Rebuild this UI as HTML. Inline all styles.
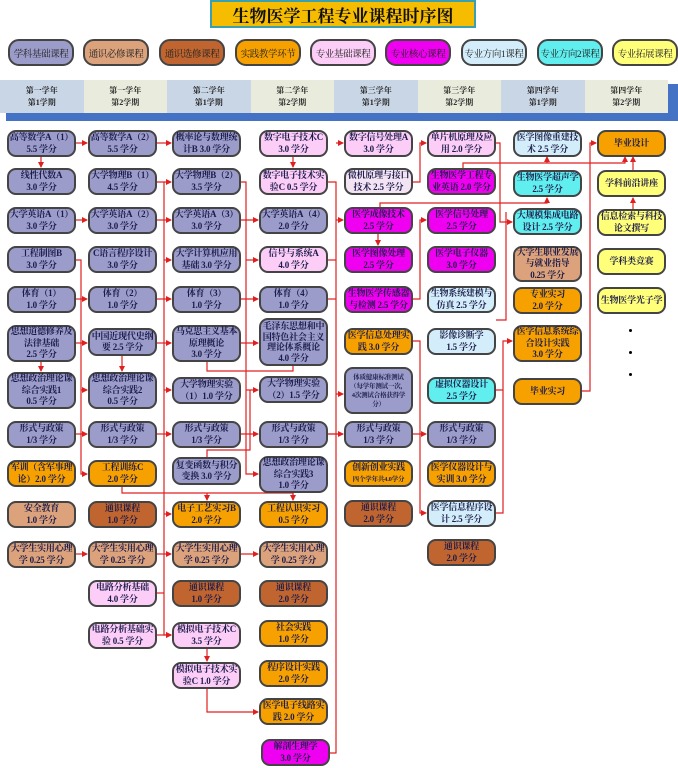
<!DOCTYPE html>
<html><head><meta charset="utf-8"><style>
body{margin:0;width:678px;height:768px;background:#fff;position:relative;overflow:hidden;font-family:"Liberation Serif","Noto Serif CJK SC",serif}
.b{position:absolute;box-sizing:border-box;border:2px solid #444;border-radius:9px;display:flex;align-items:center;justify-content:center;text-align:center;font-size:9px;line-height:11.5px;font-weight:bold;color:#1c1c4a;width:69px;height:27px;padding:0;letter-spacing:-0.2px;white-space:nowrap}
.p{background:#9c9ccb}.t{background:#dca27c}.br{background:#c0652f}.o{background:#f7a100}.k{background:#fbcdf7}.m{background:#f000f0}.lb{background:#d3eefa}.c{background:#60eeee}.y{background:#ffff7a}.w{background:#f3e4f3}
.lg{position:absolute;top:39px;height:27px;width:66px;box-sizing:border-box;border:2px solid #444;border-radius:11px;font-size:9.5px;letter-spacing:-0.4px;white-space:nowrap;display:flex;align-items:center;justify-content:center;font-family:"Liberation Serif","Noto Serif CJK SC",serif;color:#222}
.s{position:absolute;top:80px;height:33px;width:83.5px;font-size:8px;line-height:12px;font-weight:bold;text-align:center;display:flex;align-items:center;justify-content:center;color:#222}
svg{position:absolute;left:0;top:0}
</style></head><body>
<div style="position:absolute;left:210px;top:0;width:266px;height:28px;box-sizing:border-box;background:#f6bd00;border:2px solid #3aa0b0;font:bold 17px 'Liberation Serif','Noto Serif CJK SC',serif;display:flex;align-items:center;justify-content:center;color:#111">生物医学工程专业课程时序图</div>
<div class="lg" style="left:8px;background:#9c9ccb">学科基础课程</div>
<div class="lg" style="left:83px;background:#dca27c">通识必修课程</div>
<div class="lg" style="left:159px;background:#c0652f">通识选修课程</div>
<div class="lg" style="left:235px;background:#f7a100">实践教学环节</div>
<div class="lg" style="left:310px;background:#fbcdf7">专业基础课程</div>
<div class="lg" style="left:385px;background:#f000f0">专业核心课程</div>
<div class="lg" style="left:461px;background:#d3eefa">专业方向1课程</div>
<div class="lg" style="left:537px;background:#60eeee">专业方向2课程</div>
<div class="lg" style="left:612px;background:#ffff7a">专业拓展课程</div>
<div style="position:absolute;left:6px;top:113px;width:672px;height:8px;background:#4472c4"></div>
<div style="position:absolute;left:668px;top:84px;width:10px;height:37px;background:#4472c4"></div>
<div class="s" style="left:0;background:#c9d6e5">第一学年<br>第1学期</div>
<div class="s" style="left:83.5px;background:#e9ecdc">第一学年<br>第2学期</div>
<div class="s" style="left:167px;background:#c9d6e5">第二学年<br>第1学期</div>
<div class="s" style="left:250.5px;background:#e9ecdc">第二学年<br>第2学期</div>
<div class="s" style="left:334px;background:#c9d6e5">第三学年<br>第1学期</div>
<div class="s" style="left:417.5px;background:#e9ecdc">第三学年<br>第2学期</div>
<div class="s" style="left:501px;background:#c9d6e5">第四学年<br>第1学期</div>
<div class="s" style="left:584.5px;background:#e9ecdc">第四学年<br>第2学期</div>

<svg width="678" height="768" viewBox="0 0 678 768">
<defs><marker id="a" markerWidth="6" markerHeight="6" refX="5" refY="3" orient="auto" markerUnits="userSpaceOnUse"><path d="M0,0L6,3L0,6z" fill="#e02020"/></marker></defs>
<g stroke="#e02020" stroke-width="1.2" fill="none">
<path d="M75,143H87" marker-end="url(#a)"/><path d="M157,143H171" marker-end="url(#a)"/>
<path d="M41,156V167" marker-end="url(#a)"/><path d="M293,156V167" marker-end="url(#a)"/>
<path d="M75,220H87" marker-end="url(#a)"/><path d="M157,220H171" marker-end="url(#a)"/><path d="M241,220H258" marker-end="url(#a)"/>
<path d="M75,299H87" marker-end="url(#a)"/><path d="M157,299H171" marker-end="url(#a)"/><path d="M241,299H258" marker-end="url(#a)"/>
<path d="M75,343H87" marker-end="url(#a)"/><path d="M157,343H171" marker-end="url(#a)"/><path d="M241,343H258" marker-end="url(#a)"/>
<path d="M75,434H87" marker-end="url(#a)"/><path d="M157,434H171" marker-end="url(#a)"/><path d="M241,434H258" marker-end="url(#a)"/><path d="M328,434H343" marker-end="url(#a)"/><path d="M413,434H426" marker-end="url(#a)"/>
<path d="M75,554H87" marker-end="url(#a)"/><path d="M157,554H171" marker-end="url(#a)"/><path d="M241,554H258" marker-end="url(#a)"/>
<path d="M41,361V371" marker-end="url(#a)"/><path d="M122,356V371" marker-end="url(#a)"/>
<path d="M75,260H81V474H87" marker-end="url(#a)"/><path d="M81,390H87" marker-end="url(#a)"/>
<path d="M157,182H164V635H171" marker-end="url(#a)"/><path d="M164,182H171" marker-end="url(#a)"/><path d="M164,260H171" marker-end="url(#a)"/><path d="M164,390H171" marker-end="url(#a)"/><path d="M164,514H171" marker-end="url(#a)"/><path d="M157,593H164"/><path d="M157,635H171" marker-end="url(#a)"/>
<path d="M122,487V493H293V500"/><path d="M207,493V500" marker-end="url(#a)"/><path d="M293,493V500" marker-end="url(#a)"/>
<path d="M207,648V661" marker-end="url(#a)"/><path d="M207,688V712H258" marker-end="url(#a)"/>
<path d="M241,182H246V474H258" marker-end="url(#a)"/><path d="M246,390H258" marker-end="url(#a)"/><path d="M246,260H258" marker-end="url(#a)"/>
<path d="M207,361V371H293V366"/><path d="M207,457V450H250V390"/>
<path d="M328,182H336V753H330"/><path d="M328,260H336"/><path d="M328,299H336"/><path d="M336,143H343" marker-end="url(#a)"/><path d="M336,220H343" marker-end="url(#a)"/><path d="M336,394H343" marker-end="url(#a)"/><path d="M328,434H343"/>
<path d="M413,182H420V143H426" marker-end="url(#a)"/><path d="M413,299H420V220H426" marker-end="url(#a)"/>
<path d="M413,341H420V513H426" marker-end="url(#a)"/>
<path d="M378,234V245" marker-end="url(#a)"/>
<path d="M380,207V203H547V198" marker-end="url(#a)"/>
<path d="M463,168V163H625V157" marker-end="url(#a)"/><path d="M547,163V157" marker-end="url(#a)"/><path d="M633,170V157" marker-end="url(#a)"/>
<path d="M633,209V198" marker-end="url(#a)"/>
<path d="M496,143H500V222H512" marker-end="url(#a)"/>
<path d="M496,390H503V341H512" marker-end="url(#a)"/><path d="M496,513H503V390"/>
<path d="M506,212V320H496"/>
<path d="M582,391H590V143H596" marker-end="url(#a)"/>
</g></svg>

<!-- col1 -->
<div class="b p" style="left:7px;top:130px">高等数学A（1）<br>5.5 学分</div>
<div class="b p" style="left:7px;top:168px">线性代数A<br>3.0 学分</div>
<div class="b p" style="left:7px;top:207px">大学英语A（1）<br>3.0 学分</div>
<div class="b p" style="left:7px;top:246px">工程制图B<br>3.0 学分</div>
<div class="b p" style="left:7px;top:286px">体育（1）<br>1.0 学分</div>
<div class="b p" style="left:7px;top:325px;height:37px">思想道德修养及<br>法律基础<br>2.5 学分</div>
<div class="b p" style="left:7px;top:372px;height:37px">思想政治理论课<br>综合实践1<br>0.5 学分</div>
<div class="b p" style="left:7px;top:421px">形式与政策<br>1/3 学分</div>
<div class="b o" style="left:7px;top:460px">军训（含军事理<br>论）2.0 学分</div>
<div class="b t" style="left:7px;top:501px">安全教育<br>1.0 学分</div>
<div class="b t" style="left:7px;top:541px">大学生实用心理<br>学 0.25 学分</div>
<!-- col2 -->
<div class="b p" style="left:88px;top:130px">高等数学A（2）<br>5.5 学分</div>
<div class="b p" style="left:88px;top:168px">大学物理B（1）<br>4.5 学分</div>
<div class="b p" style="left:88px;top:207px">大学英语A（2）<br>3.0 学分</div>
<div class="b p" style="left:88px;top:246px">C语言程序设计<br>3.0 学分</div>
<div class="b p" style="left:88px;top:286px">体育（2）<br>1.0 学分</div>
<div class="b p" style="left:88px;top:328px;height:28px">中国近现代史纲<br>要 2.5 学分</div>
<div class="b p" style="left:88px;top:372px;height:37px">思想政治理论课<br>综合实践2<br>0.5 学分</div>
<div class="b p" style="left:88px;top:421px">形式与政策<br>1/3 学分</div>
<div class="b o" style="left:88px;top:460px">工程训练C<br>2.0 学分</div>
<div class="b br" style="left:88px;top:501px">通识课程<br>1.0 学分</div>
<div class="b t" style="left:88px;top:541px">大学生实用心理<br>学 0.25 学分</div>
<div class="b k" style="left:88px;top:580px">电路分析基础<br>4.0 学分</div>
<div class="b k" style="left:88px;top:622px">电路分析基础实<br>验 0.5 学分</div>
<!-- col3 -->
<div class="b p" style="left:172px;top:130px">概率论与数理统<br>计B 3.0 学分</div>
<div class="b p" style="left:172px;top:168px">大学物理B（2）<br>3.5 学分</div>
<div class="b p" style="left:172px;top:207px">大学英语A（3）<br>3.0 学分</div>
<div class="b p" style="left:172px;top:246px">大学计算机应用<br>基础 3.0 学分</div>
<div class="b p" style="left:172px;top:286px">体育（3）<br>1.0 学分</div>
<div class="b p" style="left:172px;top:325px;height:37px">马克思主义基本<br>原理概论<br>3.0 学分</div>
<div class="b p" style="left:172px;top:377px">大学物理实验<br>（1）1.0 学分</div>
<div class="b p" style="left:172px;top:421px">形式与政策<br>1/3 学分</div>
<div class="b p" style="left:172px;top:457px;height:28px">复变函数与积分<br>变换 3.0 学分</div>
<div class="b o" style="left:172px;top:501px">电子工艺实习B<br>2.0 学分</div>
<div class="b t" style="left:172px;top:541px">大学生实用心理<br>学 0.25 学分</div>
<div class="b br" style="left:172px;top:580px">通识课程<br>1.0 学分</div>
<div class="b k" style="left:172px;top:622px">模拟电子技术C<br>3.5 学分</div>
<div class="b k" style="left:172px;top:662px">模拟电子技术实<br>验C 1.0 学分</div>
<!-- col4 -->
<div class="b k" style="left:259px;top:130px">数字电子技术C<br>3.0 学分</div>
<div class="b k" style="left:259px;top:168px">数字电子技术实<br>验C 0.5 学分</div>
<div class="b p" style="left:259px;top:207px">大学英语A（4）<br>2.0 学分</div>
<div class="b k" style="left:259px;top:246px">信号与系统A<br>4.0 学分</div>
<div class="b p" style="left:259px;top:286px">体育（4）<br>1.0 学分</div>
<div class="b p" style="left:259px;top:318px;height:48px;line-height:10.5px">毛泽东思想和中<br>国特色社会主义<br>理论体系概论<br>4.0 学分</div>
<div class="b p" style="left:259px;top:376px">大学物理实验<br>（2）1.5 学分</div>
<div class="b p" style="left:259px;top:421px">形式与政策<br>1/3 学分</div>
<div class="b p" style="left:259px;top:456px;height:37px">思想政治理论课<br>综合实践3<br>1.0 学分</div>
<div class="b o" style="left:259px;top:501px">工程认识实习<br>0.5 学分</div>
<div class="b t" style="left:259px;top:541px">大学生实用心理<br>学 0.25 学分</div>
<div class="b br" style="left:259px;top:580px">通识课程<br>2.0 学分</div>
<div class="b o" style="left:259px;top:620px">社会实践<br>1.0 学分</div>
<div class="b o" style="left:259px;top:660px">程序设计实践<br>2.0 学分</div>
<div class="b o" style="left:259px;top:698px">医学电子线路实<br>践 2.0 学分</div>
<div class="b m" style="left:261px;top:739px">解剖生理学<br>3.0 学分</div>
<!-- col5 -->
<div class="b k" style="left:344px;top:130px">数字信号处理A<br>3.0 学分</div>
<div class="b w" style="left:344px;top:168px">微机原理与接口<br>技术 2.5 学分</div>
<div class="b m" style="left:344px;top:207px">医学成像技术<br>2.5 学分</div>
<div class="b m" style="left:344px;top:246px">医学图像处理<br>2.5 学分</div>
<div class="b m" style="left:344px;top:286px">生物医学传感器<br>与检测 2.5 学分</div>
<div class="b o" style="left:344px;top:328px">医学信息处理实<br>践 3.0 学分</div>
<div class="b p" style="left:344px;top:367px;height:47px;font-size:6.5px;line-height:9px">体质健康标准测试<br>（每学年测试一次，<br>4次测试合格获得学<br>分）</div>
<div class="b p" style="left:344px;top:421px">形式与政策<br>1/3 学分</div>
<div class="b o" style="left:344px;top:460px"><div>创新创业实践<br><span style="font-size:6.5px">四个学年共4.0学分</span></div></div>
<div class="b br" style="left:344px;top:500px">通识课程<br>2.0 学分</div>
<!-- col6 -->
<div class="b k" style="left:427px;top:130px">单片机原理及应<br>用 2.0 学分</div>
<div class="b m" style="left:427px;top:168px">生物医学工程专<br>业英语 2.0 学分</div>
<div class="b m" style="left:427px;top:207px">医学信号处理<br>2.5 学分</div>
<div class="b m" style="left:427px;top:246px">医学电子仪器<br>3.0 学分</div>
<div class="b lb" style="left:427px;top:286px">生物系统建模与<br>仿真 2.5 学分</div>
<div class="b lb" style="left:427px;top:328px">影像诊断学<br>1.5 学分</div>
<div class="b c" style="left:427px;top:377px">虚拟仪器设计<br>2.5 学分</div>
<div class="b p" style="left:427px;top:421px">形式与政策<br>1/3 学分</div>
<div class="b o" style="left:427px;top:460px">医学仪器设计与<br>实训 3.0 学分</div>
<div class="b lb" style="left:427px;top:500px">医学信息程序设<br>计 2.5 学分</div>
<div class="b br" style="left:427px;top:539px">通识课程<br>2.0 学分</div>
<!-- col7 -->
<div class="b lb" style="left:513px;top:130px">医学图像重建技<br>术 2.5 学分</div>
<div class="b c" style="left:513px;top:170px">生物医学超声学<br>2.5 学分</div>
<div class="b c" style="left:513px;top:208px">大规模集成电路<br>设计 2.5 学分</div>
<div class="b t" style="left:513px;top:246px;height:36px">大学生职业发展<br>与就业指导<br>0.25 学分</div>
<div class="b o" style="left:513px;top:287px">专业实习<br>2.0 学分</div>
<div class="b o" style="left:513px;top:325px;height:37px">医学信息系统综<br>合设计实践<br>3.0 学分</div>
<div class="b o" style="left:513px;top:378px">毕业实习</div>
<!-- col8 -->
<div class="b o" style="left:597px;top:130px">毕业设计</div>
<div class="b y" style="left:597px;top:170px">学科前沿讲座</div>
<div class="b y" style="left:597px;top:209px">信息检索与科技<br>论文撰写</div>
<div class="b y" style="left:597px;top:248px">学科类竞赛</div>
<div class="b y" style="left:597px;top:287px">生物医学光子学</div>
<div style="position:absolute;left:629px;top:329px;width:3px;height:3px;background:#000;border-radius:50%"></div>
<div style="position:absolute;left:629px;top:351px;width:3px;height:3px;background:#000;border-radius:50%"></div>
<div style="position:absolute;left:629px;top:373px;width:3px;height:3px;background:#000;border-radius:50%"></div>
</body></html>
